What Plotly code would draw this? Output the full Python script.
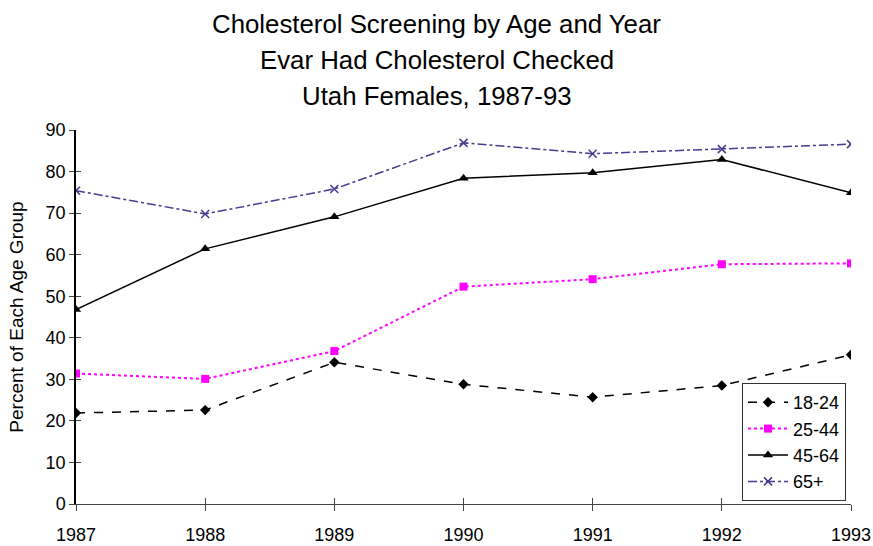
import plotly.graph_objects as go

years = [1987, 1988, 1989, 1990, 1991, 1992, 1993]
age_18_24 = [21.9, 22.6, 34.1, 28.8, 25.7, 28.5, 35.9]
age_25_44 = [31.4, 30.1, 36.8, 52.3, 54.1, 57.7, 57.9]
age_45_64 = [46.8, 61.4, 69.1, 78.4, 79.7, 82.9, 74.9]
age_65_up = [75.4, 69.8, 75.8, 86.9, 84.3, 85.4, 86.6]
y_ticks = [0, 10, 20, 30, 40, 50, 60, 70, 80, 90]
title_lines = ["Cholesterol Screening by Age and Year",
               "Evar Had Cholesterol Checked",
               "Utah Females, 1987-93"]

font = "Liberation Sans, Arial, sans-serif"
W, H = 873, 546
L, R, T, B = 76, 22, 130, 42
PW, PH = W - L - R, H - T - B

fig = go.Figure()
fig.add_trace(go.Scatter(x=years, y=age_18_24, name="18-24", mode="lines+markers",
                         legendgroup="a",
                         line=dict(color="black", width=1.5, dash="dash"),
                         marker=dict(symbol="diamond", size=8, color="black")))
fig.add_trace(go.Scatter(x=years, y=age_25_44, name="25-44", mode="lines+markers",
                         legendgroup="b",
                         line=dict(color="#FF00FF", width=2, dash="dot"),
                         marker=dict(symbol="square", size=8, color="#FF00FF")))
fig.add_trace(go.Scatter(x=years, y=age_45_64, name="45-64", mode="lines+markers",
                         legendgroup="c",
                         line=dict(color="black", width=1.5),
                         marker=dict(symbol="triangle-up", size=9, color="black")))
fig.add_trace(go.Scatter(x=years, y=age_65_up, name="65+", mode="lines+markers",
                         legendgroup="d",
                         line=dict(color="#483A8E", width=1.5, dash="dashdot"),
                         marker=dict(symbol="x-thin", size=8,
                                     line=dict(color="#483A8E", width=1.5))))

# invisible trace on overlay axes so inner tick halves are drawn
fig.add_trace(go.Scatter(x=years, y=age_18_24, xaxis="x2", yaxis="y2",
                         mode="none", showlegend=False, hoverinfo="skip"))

# three-line title, one annotation per line
centers = [24, 60, 96]
for text, cy in zip(title_lines, centers):
    fig.add_annotation(text=text, xref="paper", yref="paper",
                       x=(W / 2 - L) / PW,
                       y=1 + (T - cy) / PH, xanchor="center", yanchor="middle",
                       showarrow=False, font=dict(family=font, size=25.8, color="black"))

fig.update_layout(
    width=W, height=H,
    margin=dict(l=L, r=R, t=T, b=B),
    paper_bgcolor="white", plot_bgcolor="white",
    font=dict(family=font, size=18, color="black"),
    xaxis=dict(range=[1987, 1993], tickvals=years, ticks="outside", ticklen=6,
               tickcolor="#444", showline=True, linecolor="#444", linewidth=1,
               showgrid=False, zeroline=False, tickfont=dict(size=18),
               ticklabelstandoff=8, automargin=False),
    yaxis=dict(range=[0, 90], tickvals=y_ticks, ticks="outside", ticklen=5,
               tickcolor="#444", showline=True, linecolor="black", linewidth=1.5,
               showgrid=False, zeroline=False, tickfont=dict(size=18),
               automargin=False,
               title=dict(text="Percent of Each Age Group", font=dict(size=19), standoff=17)),
    xaxis2=dict(range=[1987, 1993], tickvals=years, ticks="inside", ticklen=6,
                tickcolor="#444", overlaying="x", showticklabels=False,
                showgrid=False, zeroline=False, showline=False),
    yaxis2=dict(range=[0, 90], tickvals=y_ticks, ticks="inside", ticklen=5,
                tickcolor="#444", overlaying="y", showticklabels=False,
                showgrid=False, zeroline=False, showline=False),
    legend=dict(x=(742 - L) / PW, y=(T + PH - 501) / PH, xanchor="left", yanchor="bottom",
                bordercolor="#333", borderwidth=1, bgcolor="white",
                font=dict(size=18), traceorder="grouped", tracegroupgap=0,
                itemwidth=40),
    showlegend=True,
)

fig.write_html("out.html")
